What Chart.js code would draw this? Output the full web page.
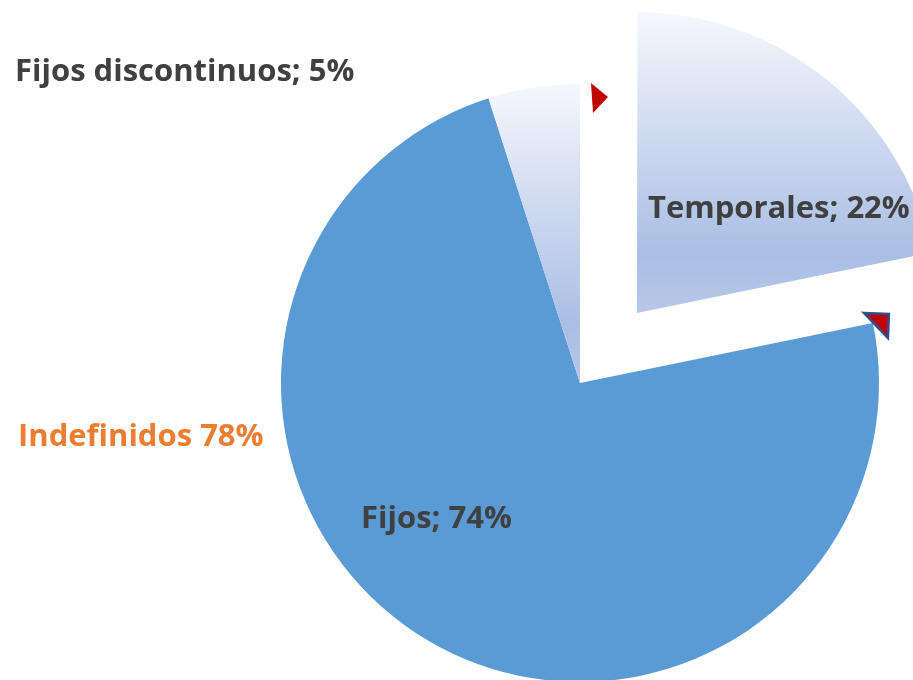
<!DOCTYPE html>
<html>
<head>
<meta charset="utf-8">
<script src="https://cdn.jsdelivr.net/npm/chart.js@4.4.1/dist/chart.umd.min.js"></script>
<style>
  html, body { margin: 0; padding: 0; background: #ffffff; overflow: hidden; }
  #wrap { position: relative; width: 913px; height: 680px; }
</style>
</head>
<body>
<div id="wrap"><canvas id="pieChart"></canvas></div>
<script>
// data
var categories = ['Temporales', 'Fijos', 'Fijos discontinuos'];
var percentages = [22, 74, 5];
var labelTexts = ['Temporales; 22%', 'Fijos; 74%', 'Fijos discontinuos; 5%'];
var extraNote = 'Indefinidos 78%';

var RADIUS = 299;
var EXPLODE = [361, 0, 0];          // only Temporales is pulled out
var solidBlue = '#5B9BD5';
var textGrey = '#404040';
var noteOrange = '#ED7D31';

function sliceFill(c) {
    if (c.dataIndex === 1) return solidBlue;
    var area = c.chart.chartArea;
    if (!area) return '#C5D3EE';
    var cy = (area.top + area.bottom) / 2;
    var g = c.chart.ctx.createLinearGradient(0, cy - RADIUS, 0, cy);
    g.addColorStop(0, '#F5F7FC');
    g.addColorStop(0.8, '#AABEE4');
    g.addColorStop(1, '#B7C7E8');
    return g;
}

// label places (text layout, left x and baseline)
var labelPlaces = [
    { x: 648, y: 218 },
    { x: 361, y: 528 },
    { x: 15, y: 81 }
];

var labelPlugin = {
    id: 'pieLabels',
    afterDatasetsDraw: function(chart) {
        var ctx = chart.ctx;
        var meta = chart.getDatasetMeta(0);
        ctx.save();

        // little red arrow heads at slice tips
        var tipA = meta.data[2];
        var ax = tipA.x + Math.cos(tipA.endAngle) * tipA.outerRadius;
        var ay = tipA.y + Math.sin(tipA.endAngle) * tipA.outerRadius;
        ctx.fillStyle = '#C00000';
        ctx.beginPath();
        ctx.moveTo(ax + 11, ay - 1);
        ctx.lineTo(ax + 28, ay + 13);
        ctx.lineTo(ax + 13, ay + 29);
        ctx.closePath();
        ctx.fill();

        var tipB = meta.data[1];
        var bx = tipB.x + Math.cos(tipB.startAngle) * tipB.outerRadius;
        var by = tipB.y + Math.sin(tipB.startAngle) * tipB.outerRadius;
        ctx.beginPath();
        ctx.moveTo(bx - 9, by - 10);
        ctx.lineTo(bx + 16, by - 9);
        ctx.lineTo(bx + 15, by + 15);
        ctx.closePath();
        ctx.fillStyle = '#C00000';
        ctx.fill();
        ctx.lineWidth = 2.5;
        ctx.strokeStyle = '#2E4F8F';
        ctx.lineJoin = 'miter';
        ctx.stroke();

        ctx.textAlign = 'left';
        ctx.textBaseline = 'alphabetic';
        ctx.font = 'bold 31px "Open Sans"';
        ctx.fillStyle = textGrey;
        labelTexts.forEach(function(t, i) {
            ctx.fillText(t, labelPlaces[i].x, labelPlaces[i].y);
        });

        ctx.fillStyle = noteOrange;
        ctx.fillText(extraNote, 18, 446);
        ctx.restore();
    }
};

var ctx = document.getElementById('pieChart').getContext('2d');
var pieChart = new Chart(ctx, {
    type: 'pie',
    data: {
        labels: categories,
        datasets: [{
            data: percentages,
            backgroundColor: sliceFill,
            borderWidth: 0,
            offset: EXPLODE,
            hoverOffset: 0,
            clip: false
        }]
    },
    options: {
        responsive: true,
        maintainAspectRatio: false,
        animation: false,
        radius: RADIUS,
        layout: { padding: { left: 247, right: 0, top: 86, bottom: 0 } },
        events: [],
        plugins: {
            legend: { display: false },
            tooltip: { enabled: false }
        }
    },
    plugins: [labelPlugin]
});
</script>
</body>
</html>
